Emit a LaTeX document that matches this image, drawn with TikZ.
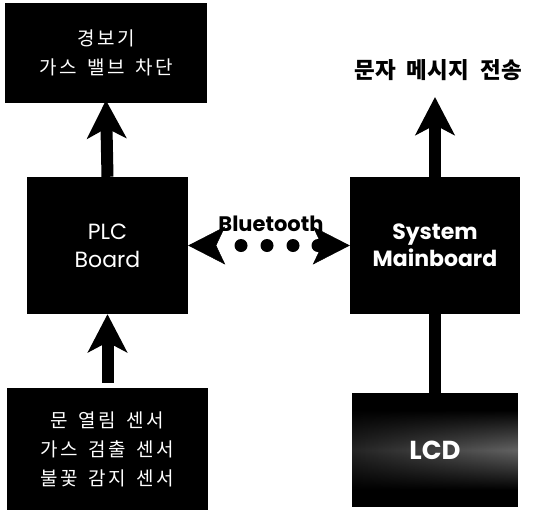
\documentclass[tikz,border=0pt]{standalone}
\usepackage{fontspec}
\newfontfamily\pop{Poppins}
\newfontfamily\kr{Noto Sans CJK KR}
\newfontfamily\krs{Noto Sans CJK KR}[LetterSpace=14]
\usetikzlibrary{arrows.meta,fadings}
\tikzfading[name=bandfade, top color=transparent!100, bottom color=transparent!100, middle color=transparent!30]
\begin{document}
\begin{tikzpicture}[x=1pt,y=-1pt,
  blk/.style={fill=black, draw=none, inner sep=0pt},
  kortext/.style={text=white, font=\krs\fontsize{19}{29}\selectfont, align=center},
  engtext/.style={text=white, font=\pop\fontsize{22}{28}\selectfont, align=center},
  bigarrow/.style={line width=12pt, -{Stealth[width=39pt,length=38pt,inset=10pt]}},
  btlink/.style={white, line width=0.5pt,
    {Stealth[color=black,width=38pt,length=37pt,inset=9pt]}-{Stealth[color=black,width=38pt,length=37pt,inset=9pt]}},
  dot/.style={fill=black}
]
\useasboundingbox (0,0) rectangle (536,512);

% boxes
\node[blk, kortext, minimum width=202pt, minimum height=100pt] (alarm) at (106,53)
  {경보기\\가스\hspace{.55em}밸브\hspace{.55em}차단};
\node[blk, engtext, minimum width=161pt, minimum height=137pt] (plc) at (107.5,245.5)
  {PLC\\Board};
\node[blk, kortext, minimum width=201pt, minimum height=122pt] (sens) at (107.5,449)
  {문\hspace{.55em}열림\hspace{.55em}센서\\가스\hspace{.55em}검출\hspace{.55em}센서\\불꽃\hspace{.55em}감지\hspace{.55em}센서};
\node[blk, engtext, font=\pop\bfseries\fontsize{22}{27}\selectfont, minimum width=170pt, minimum height=137pt] (main) at (435,245.5)
  {System\\Mainboard};
\node[blk, minimum width=166pt, minimum height=114pt] (lcd) at (435,450) {};
\shade[left color=black!80, right color=black!45, path fading=bandfade] (352,410) rectangle (518,490);
\node[text=white, font=\pop\bfseries\fontsize{26}{28}\selectfont] (lcdtext) at (lcd.center) {LCD};

% SMS label
\node[font=\kr\bfseries\fontsize{22.5}{24}\selectfont] (sms) at (438,70) {문자\hspace{.5em}메시지\hspace{.5em}전송};
\coordinate (smstip) at (435,97);

% arrows
\draw[bigarrow, shorten >=-3pt] (plc.north) -- (alarm.south);
\draw[bigarrow, shorten <=5pt] (sens.north) -- (plc.south);
\draw[bigarrow] (main.north) -- (smstip);
\draw[line width=12pt] (main.south) -- (lcd.north);

% bluetooth link
\draw[btlink] (plc.east) -- (main.west);
\foreach \xx in {241,267,293,318} \fill[dot] (\xx,245.5) circle (6.5pt);
\node[font=\pop\bfseries\fontsize{21}{22}\selectfont] (bt) at (271,224) {Bluetooth};
\end{tikzpicture}
\end{document}
